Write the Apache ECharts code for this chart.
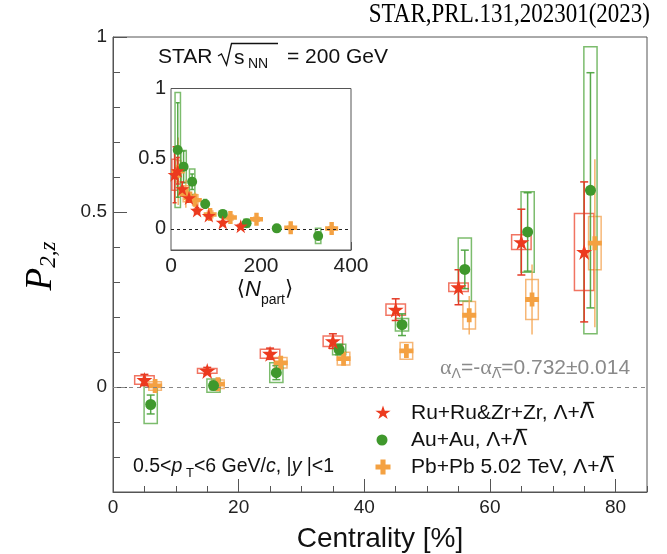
<!DOCTYPE html>
<html>
<head>
<meta charset="utf-8">
<script src="https://cdn.jsdelivr.net/npm/echarts@6/dist/echarts.min.js"></script>
<style>
  html, body { margin: 0; padding: 0; background: #ffffff; }
  #chart { width: 667px; height: 554px; }
</style>
</head>
<body>
<div id="chart"></div>
<script>
// Centrality bin centres (%) for each collision system (small offsets to avoid overlap)
const centRu = [5, 15, 25, 35, 45, 55, 65, 75];
const centAu = [6, 16, 26, 36, 46, 56, 66, 76];
const centPb = [6.7, 16.7, 26.7, 36.7, 46.7, 56.7, 66.7, 76.7];

// Mean number of participants for the same bins
const npartRu = [155, 115, 84, 58, 40, 25, 15, 8];
const npartAu = [327, 235, 168, 115, 76, 47, 28, 15];
const npartPb = [357, 266, 190, 132, 87, 54, 33, 16];

// P2,z with statistical and systematic uncertainties
const p2zRu  = [0.020, 0.046, 0.095, 0.131, 0.221, 0.285, 0.414, 0.386];
const statRu = [0.016, 0.010, 0.016, 0.021, 0.031, 0.050, 0.094, 0.200];
const sysRu  = [0.012, 0.007, 0.013, 0.015, 0.016, 0.012, 0.021, 0.110];

const p2zAu  = [-0.050, 0.004, 0.041, 0.107, 0.178, 0.336, 0.443, 0.562];
const statAu = [0.027, 0.012, 0.020, 0.015, 0.031, 0.055, 0.112, 0.336];
const sysAu  = [0.054, 0.019, 0.028, 0.015, 0.018, 0.090, 0.115, 0.410];

const p2zPb  = [0.003, 0.008, 0.069, 0.081, 0.103, 0.205, 0.250, 0.411];
const statPb = [0.008, 0.008, 0.010, 0.012, 0.015, 0.055, 0.100, 0.240];
const sysPb  = [0.012, 0.012, 0.015, 0.018, 0.024, 0.039, 0.057, 0.076];

// Tick labels
const xTickLabels = [0, 20, 40, 60, 80];
const yTickLabels = [0, 0.5, 1];
const insetXTickLabels = [0, 200, 400];
const insetYTickLabels = [0, 0.5, 1];
const insetYMinorTicks = [-0.1, 0.1, 0.2, 0.3, 0.4, 0.6, 0.7, 0.8, 0.9];

const RED = '#ec3a1e', GREEN = '#3f982c', ORANGE = '#f4a142';
const RED_BOX = 'rgba(236,70,45,0.75)', GREEN_BOX = 'rgba(80,165,60,0.75)', ORANGE_BOX = 'rgba(244,165,85,0.8)';
const RED_BAR = '#e43a26', GREEN_BAR = 'rgba(70,160,55,0.9)', ORANGE_BAR = 'rgba(244,165,80,0.85)';

// Marker outlines on a 100x100 box
const STAR_PTS = [[50,0],[61.2,34.5],[97.6,34.5],[68.2,55.9],[79.4,90.5],[50,69.1],[20.6,90.5],[31.8,55.9],[2.4,34.5],[38.8,34.5]];
const CROSS_PTS = [[33,0],[67,0],[67,33],[100,33],[100,67],[67,67],[67,100],[33,100],[33,67],[0,67],[0,33],[33,33]];
const toPath = pts => 'path://M' + pts.map(p => p[0] + ',' + p[1]).join('L') + 'Z';
const STAR = toPath(STAR_PTS);
const CROSS = toPath(CROSS_PTS);

const SANS = '"Liberation Sans", Arial, Helvetica, sans-serif';
const SERIF = '"Liberation Serif", "Times New Roman", serif';

// Systematic uncertainty boxes
function boxSeries(xs, ys, sys, halfWidth, color, axis) {
  return {
    type: 'custom', xAxisIndex: axis, yAxisIndex: axis, clip: true, z: 2, silent: true,
    data: xs.map((x, i) => [x, ys[i], sys[i]]),
    encode: { x: 0, y: 1 },
    renderItem: (params, api) => {
      const x = api.value(0), y = api.value(1), s = api.value(2);
      const a = api.coord([x - halfWidth, y + s]);
      const b = api.coord([x + halfWidth, y - s]);
      return {
        type: 'rect',
        shape: { x: a[0], y: a[1], width: b[0] - a[0], height: b[1] - a[1] },
        style: { fill: 'none', stroke: color, lineWidth: 1.5 }
      };
    }
  };
}

// Statistical error bars (optional end caps, in pixels)
function barSeries(xs, ys, err, cap, color, axis) {
  return {
    type: 'custom', xAxisIndex: axis, yAxisIndex: axis, clip: true, z: 3, silent: true,
    data: xs.map((x, i) => [x, ys[i], err[i]]),
    encode: { x: 0, y: 1 },
    renderItem: (params, api) => {
      const x = api.value(0), y = api.value(1), e = api.value(2);
      const t = api.coord([x, y + e]);
      const b = api.coord([x, y - e]);
      const st = { stroke: color, lineWidth: 1.5 };
      const children = [{ type: 'line', shape: { x1: t[0], y1: t[1], x2: b[0], y2: b[1] }, style: st }];
      if (cap > 0) {
        children.push({ type: 'line', shape: { x1: t[0] - cap, y1: t[1], x2: t[0] + cap, y2: t[1] }, style: st });
        children.push({ type: 'line', shape: { x1: b[0] - cap, y1: b[1], x2: b[0] + cap, y2: b[1] }, style: st });
      }
      return { type: 'group', children };
    }
  };
}

function markerSeries(xs, ys, symbol, size, color, axis, z) {
  return {
    type: 'scatter', xAxisIndex: axis, yAxisIndex: axis, z, silent: true,
    data: xs.map((x, i) => [x, ys[i]]),
    symbol, symbolSize: size, itemStyle: { color, opacity: 1 }
  };
}

function zeroLine(axis, color, dash, width) {
  return {
    type: 'line', xAxisIndex: axis, yAxisIndex: axis, data: [], z: 1, silent: true,
    markLine: {
      silent: true, symbol: 'none', animation: false,
      label: { show: false },
      lineStyle: { color, type: dash, width },
      data: [{ yAxis: 0 }]
    }
  };
}

const axisColor = '#555';
const labelStyle = { fontSize: 19, color: '#222', fontFamily: SANS };

const xAxes = [
  // main: minor ticks + labels
  { gridIndex: 0, type: 'value', min: 0, max: 85, interval: 5, position: 'bottom',
    axisLine: { show: true, onZero: false, lineStyle: { color: axisColor } },
    axisTick: { inside: true, length: 6, lineStyle: { color: axisColor } },
    axisLabel: Object.assign({ customValues: xTickLabels, margin: 6 }, labelStyle),
    splitLine: { show: false },
    name: 'Centrality [%]', nameLocation: 'middle', nameGap: 33,
    nameTextStyle: { fontSize: 28, color: '#111', fontFamily: SANS } },
  // main: major ticks
  { gridIndex: 0, type: 'value', min: 0, max: 85, position: 'bottom',
    axisLine: { show: false, onZero: false },
    axisTick: { inside: true, length: 13, customValues: xTickLabels, lineStyle: { color: axisColor } },
    axisLabel: { show: false }, splitLine: { show: false } },
  // inset: minor ticks + labels
  { gridIndex: 1, type: 'value', min: 0, max: 400, interval: 50, position: 'bottom',
    axisLine: { show: true, onZero: false, lineStyle: { color: axisColor } },
    axisTick: { inside: true, length: 4, lineStyle: { color: axisColor } },
    axisLabel: Object.assign({ customValues: insetXTickLabels, margin: 6 }, labelStyle, { fontSize: 21 }),
    splitLine: { show: false } },
  // inset: major ticks
  { gridIndex: 1, type: 'value', min: 0, max: 400, position: 'bottom',
    axisLine: { show: false, onZero: false },
    axisTick: { inside: true, length: 8, customValues: insetXTickLabels, lineStyle: { color: axisColor } },
    axisLabel: { show: false }, splitLine: { show: false } }
];

const yAxes = [
  { gridIndex: 0, type: 'value', min: -0.3, max: 1, interval: 0.1, position: 'left',
    axisLine: { show: true, onZero: false, lineStyle: { color: axisColor } },
    axisTick: { inside: true, length: 7, lineStyle: { color: axisColor } },
    axisLabel: Object.assign({ customValues: yTickLabels, margin: 6 }, labelStyle),
    splitLine: { show: false } },
  { gridIndex: 0, type: 'value', min: -0.3, max: 1, position: 'left',
    axisLine: { show: false, onZero: false },
    axisTick: { inside: true, length: 14, customValues: yTickLabels, lineStyle: { color: axisColor } },
    axisLabel: { show: false }, splitLine: { show: false } },
  { gridIndex: 1, type: 'value', min: -0.15, max: 1, position: 'left',
    axisLine: { show: true, onZero: false, lineStyle: { color: axisColor } },
    axisTick: { inside: true, length: 4, customValues: insetYMinorTicks, lineStyle: { color: axisColor } },
    axisLabel: Object.assign({ customValues: insetYTickLabels, margin: 5 }, labelStyle, { fontSize: 20 }),
    splitLine: { show: false } },
  { gridIndex: 1, type: 'value', min: -0.15, max: 1, position: 'left',
    axisLine: { show: false, onZero: false },
    axisTick: { inside: true, length: 8, customValues: insetYTickLabels, lineStyle: { color: axisColor } },
    axisLabel: { show: false }, splitLine: { show: false } }
];

const series = [
  zeroLine(0, '#888', [4, 4], 1.2),
  // main panel vs centrality
  boxSeries(centPb, p2zPb, sysPb, 1.0, ORANGE_BOX, 0),
  boxSeries(centAu, p2zAu, sysAu, 1.05, GREEN_BOX, 0),
  boxSeries(centRu, p2zRu, sysRu, 1.55, RED_BOX, 0),
  barSeries(centPb, p2zPb, statPb, 0, ORANGE_BAR, 0),
  barSeries(centAu, p2zAu, statAu, 4, GREEN_BAR, 0),
  barSeries(centRu, p2zRu, statRu, 4, RED_BAR, 0),
  markerSeries(centPb, p2zPb, CROSS, 14, ORANGE, 0, 4),
  markerSeries(centAu, p2zAu, 'circle', 11, GREEN, 0, 5),
  markerSeries(centRu, p2zRu, STAR, 16, RED, 0, 6),
  // inset vs <Npart>
  zeroLine(2, '#222', [3, 3], 1),
  boxSeries(npartPb, p2zPb, sysPb, 6, ORANGE_BOX, 2),
  boxSeries(npartAu, p2zAu, sysAu, 6, GREEN_BOX, 2),
  boxSeries(npartRu, p2zRu, sysRu, 6, RED_BOX, 2),
  barSeries(npartPb, p2zPb, statPb, 0, ORANGE_BAR, 2),
  barSeries(npartAu, p2zAu, statAu, 2, GREEN_BAR, 2),
  barSeries(npartRu, p2zRu, statRu, 2, RED_BAR, 2),
  markerSeries(npartPb, p2zPb, CROSS, 13, ORANGE, 2, 4),
  markerSeries(npartAu, p2zAu, 'circle', 10, GREEN, 2, 5),
  markerSeries(npartRu, p2zRu, STAR, 14, RED, 2, 6)
];

const LBAR = '\u039B\u0305';
const subRich = (size, color) => ({
  n: { fontSize: size, fontFamily: SANS, fill: color, lineHeight: 26, verticalAlign: 'middle' },
  g: { fontSize: size + 1, fontFamily: SERIF, fill: color, lineHeight: 26, verticalAlign: 'middle' },
  i: { fontSize: size, fontFamily: SANS, fontStyle: 'italic', fill: color, lineHeight: 26, verticalAlign: 'middle' },
  s: { fontSize: Math.round(size * 0.68), fontFamily: SANS, fill: color, lineHeight: 10, verticalAlign: 'bottom' },
  sb: { fontSize: Math.round(size * 0.68), fontFamily: '"DejaVu Sans", ' + SANS, fill: color, lineHeight: 10, verticalAlign: 'bottom' },
  lb: { fontSize: size, fontFamily: '"DejaVu Sans", ' + SANS, fill: color, lineHeight: 26, verticalAlign: 'middle' }
});

const legendRows = [
  { label: '{n|Ru+Ru&Zr+Zr, \u039B+}{lb|' + LBAR + '}', color: RED, pts: STAR_PTS, w: 16, h: 15, y: 413 },
  { label: '{n|Au+Au, \u039B+}{lb|' + LBAR + '}', color: GREEN, circle: true, y: 440 },
  { label: '{n|Pb+Pb 5.02 TeV, \u039B+}{lb|' + LBAR + '}', color: ORANGE, pts: CROSS_PTS, w: 15, h: 15, y: 467 }
];

const graphic = [
  // reference
  { type: 'text', x: 650, y: 18, scaleY: 1.18, originX: 650, originY: 18,
    style: { text: 'STAR,PRL.131,202301(2023)', font: '23px ' + SERIF, fill: '#000', align: 'right', verticalAlign: 'middle' } },
  // energy label with radical
  { type: 'text', x: 158, y: 57, style: { text: 'STAR', font: '21px ' + SANS, fill: '#111', align: 'left', verticalAlign: 'middle' } },
  { type: 'polyline', shape: { points: [[218, 56], [221.5, 54], [226.5, 65], [231.5, 43.5], [278, 43.5]] }, style: { stroke: '#111', lineWidth: 1.3, fill: 'none' } },
  { type: 'text', x: 234, y: 58, style: { text: 's', font: '21px ' + SANS, fill: '#111', align: 'left', verticalAlign: 'middle' } },
  { type: 'text', x: 248, y: 64, style: { text: 'NN', font: '14px ' + SANS, fill: '#111', align: 'left', verticalAlign: 'middle' } },
  { type: 'text', x: 287, y: 57, style: { text: '= 200 GeV', font: '21px ' + SANS, fill: '#111', align: 'left', verticalAlign: 'middle' } },
  // y-axis title
  { type: 'text', x: 41, y: 266, rotation: Math.PI / 2,
    style: { text: '{p|P}{s|2,z}', align: 'center', verticalAlign: 'middle',
      rich: {
        p: { fontFamily: SERIF, fontStyle: 'italic', fontSize: 37, lineHeight: 38, verticalAlign: 'middle', fill: '#000' },
        s: { fontFamily: SERIF, fontStyle: 'italic', fontSize: 23, lineHeight: 14, verticalAlign: 'bottom', fill: '#000' }
      } } },
  // inset x title
  { type: 'text', x: 265, y: 290,
    style: { text: '{b|\u27E8}{i|N}{s|part}{b|\u27E9}', align: 'center', verticalAlign: 'middle',
      rich: {
        b: { fontFamily: '"DejaVu Sans", ' + SANS, fontSize: 21, lineHeight: 34, verticalAlign: 'middle', fill: '#111' },
        i: { fontFamily: SANS, fontStyle: 'italic', fontSize: 22, lineHeight: 34, verticalAlign: 'middle', fill: '#111' },
        s: { fontFamily: SANS, fontSize: 14, lineHeight: 6, verticalAlign: 'bottom', fill: '#111' }
      } } },
  // kinematic cuts
  { type: 'text', x: 133, y: 467,
    style: { text: '{n|0.5<}{i|p}{s| T}{n|<6 GeV/}{i|c}{n|, |}{i|y}{n| |<1}', align: 'left', verticalAlign: 'middle', rich: subRich(19.5, '#111') } },
  // decay parameter
  { type: 'text', x: 440, y: 368,
    style: { text: '{g|\u03B1}{s|\u039B}{n|=-}{g|\u03B1}{sb|' + LBAR + '}{n|=0.732\u00B10.014}', align: 'left', verticalAlign: 'middle', rich: subRich(21, '#8a8a8a') } }
];

legendRows.forEach(r => {
  if (r.circle) {
    graphic.push({ type: 'circle', shape: { cx: 382, cy: r.y, r: 5.5 }, style: { fill: r.color } });
  } else {
    const pts = r.pts.map(p => [383 - r.w / 2 + p[0] * r.w / 100, r.y - r.h / 2 + p[1] * r.h / 100]);
    graphic.push({ type: 'polygon', shape: { points: pts }, style: { fill: r.color } });
  }
  graphic.push({ type: 'text', x: 411, y: r.y, style: { text: r.label, align: 'left', verticalAlign: 'middle', rich: subRich(21, '#111') } });
});

const chart = echarts.init(document.getElementById('chart'), null, { renderer: 'canvas' });
chart.setOption({
  animation: false,
  backgroundColor: '#ffffff',
  grid: [
    { left: 113, top: 37, width: 534, height: 455, show: true, borderColor: axisColor, borderWidth: 1,
      backgroundColor: 'transparent', containLabel: false, outerBoundsMode: 'none' },
    { left: 171, top: 88.5, width: 180, height: 161.5, show: true, borderColor: axisColor, borderWidth: 1,
      backgroundColor: '#ffffff', containLabel: false, outerBoundsMode: 'none', z: 1 }
  ],
  xAxis: xAxes,
  yAxis: yAxes,
  series,
  graphic
});
</script>
</body>
</html>
